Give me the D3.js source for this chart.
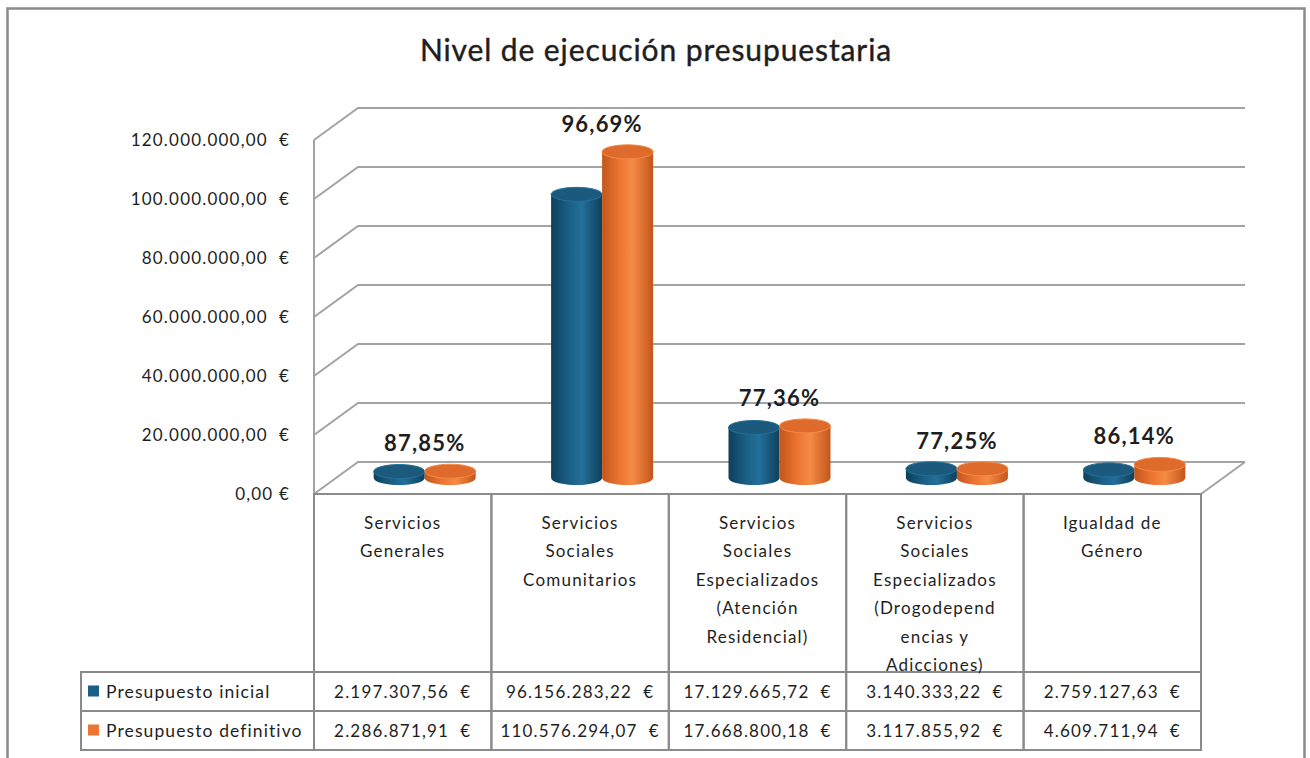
<!DOCTYPE html>
<html>
<head>
<meta charset="utf-8">
<script src="https://cdn.jsdelivr.net/npm/d3@7"></script>
<style>
  body { margin: 0; background: #fff; }
  svg text { font-family: Lato, "Open Sans", sans-serif; fill: #1e1e1e; }
</style>
</head>
<body>
<svg id="chart" width="1310" height="758"></svg>
<script>
// data
const categories = ["Servicios Generales", "Servicios Sociales Comunitarios",
    "Servicios Sociales Especializados (Atención Residencial)",
    "Servicios Sociales Especializados (Drogodependencias y Adicciones)",
    "Igualdad de Género"];
const categoryLines = [
    ["Servicios", "Generales"],
    ["Servicios", "Sociales", "Comunitarios"],
    ["Servicios", "Sociales", "Especializados", "(Atención", "Residencial)"],
    ["Servicios", "Sociales", "Especializados", "(Drogodepend", "encias y", "Adicciones)"],
    ["Igualdad de", "Género"]
];
const seriesNames = ["Presupuesto inicial", "Presupuesto definitivo"];
const presupuestoInicial = [2197307.56, 96156283.22, 17129665.72, 3140333.22, 2759127.63];
const presupuestoDefinitivo = [2286871.91, 110576294.07, 17668800.18, 3117855.92, 4609711.94];
const ejecucion = ["87,85%", "96,69%", "77,36%", "77,25%", "86,14%"];
const yTicks = [0, 20000000, 40000000, 60000000, 80000000, 100000000, 120000000];

const colors = {
    "Presupuesto inicial": { light: "#23709a", mid: "#1a5f85", dark: "#0e3f5b", top: "#1b5a7c" },
    "Presupuesto definitivo": { light: "#f58b45", mid: "#ee7431", dark: "#c2561b", top: "#de6a2b" }
};

const es = d3.formatLocale({ decimal: ",", thousands: ".", grouping: [3], currency: ["", " €"] });
const fmtNum = es.format(",.2f");
function euros(v) { return fmtNum(v) + "\u00a0\u00a0€"; }

let svg = d3.select("#chart");

// layout
const plot = { left: 314, right: 1201, top: 140, bottom: 494 };
const depth = { dx: 44, dy: -32 };
const table = { left: 81, headBottom: 672, row1: 711, row2: 750 };

let x = d3.scaleBand().domain(categories).range([plot.left, plot.right]);
let y = d3.scaleLinear().domain([0, 120000000]).range([plot.bottom, plot.top]);
let xs = d3.scaleBand().domain(seriesNames).range([-51, 51]);

// outer frame
svg.append("rect")
    .attr("x", 7.5).attr("y", 8.5).attr("width", 1297).attr("height", 780)
    .attr("fill", "none").attr("stroke", "#8a8a8a").attr("stroke-width", 2.5);

svg.append("text")
    .attr("x", 656).attr("y", 61)
    .attr("text-anchor", "middle")
    .style("font-size", "30px")
    .style("letter-spacing", "0.9px")
    .style("stroke", "#1e1e1e").style("stroke-width", "0.4px")
    .text("Nivel de ejecución presupuestaria");

// walls and gridlines
let grid = svg.append("g").attr("stroke", "#a3a3a3").attr("stroke-width", 2).attr("fill", "none");

yTicks.forEach(function(t) {
    grid.append("path")
        .attr("d", "M" + plot.left + "," + y(t) +
                   "L" + (plot.left + depth.dx) + "," + (y(t) + depth.dy) +
                   "L" + (plot.right + depth.dx) + "," + (y(t) + depth.dy));
});
grid.append("line")
    .attr("x1", plot.left).attr("x2", plot.left)
    .attr("y1", y(120000000)).attr("y2", plot.bottom);
grid.append("line")
    .attr("x1", plot.right).attr("y1", plot.bottom)
    .attr("x2", plot.right + depth.dx).attr("y2", plot.bottom + depth.dy);

// y axis labels
svg.append("g").selectAll("text")
    .data(yTicks)
    .enter()
    .append("text")
    .attr("x", 290)
    .attr("y", function(d) { return y(d) + 6; })
    .attr("text-anchor", "end")
    .style("font-size", "17px")
    .style("letter-spacing", "1.2px")
    .text(function(d) { return d == 0 ? "0,00 €" : euros(d); });

// gradients for the cylinders
let defs = svg.append("defs");
seriesNames.forEach(function(s, i) {
    let g = defs.append("linearGradient").attr("id", "grad" + i);
    g.append("stop").attr("offset", "0%").attr("stop-color", colors[s].dark);
    g.append("stop").attr("offset", "35%").attr("stop-color", colors[s].mid);
    g.append("stop").attr("offset", "60%").attr("stop-color", colors[s].light);
    g.append("stop").attr("offset", "100%").attr("stop-color", colors[s].dark);
});

// bars as cylinders, standing in the middle of the floor depth
let bars = [];
categories.forEach(function(c, i) {
    bars.push({ cat: c, series: seriesNames[0], idx: 0, value: presupuestoInicial[i] });
    bars.push({ cat: c, series: seriesNames[1], idx: 1, value: presupuestoDefinitivo[i] });
});

const rx = 25.5, ry = 7;
function cx(d) { return x(d.cat) + x.bandwidth() / 2 + depth.dx / 2 + xs(d.series) + xs.bandwidth() / 2; }
function yMid(v) { return y(v) + depth.dy / 2; }

let cyl = svg.append("g").selectAll("g")
    .data(bars)
    .enter()
    .append("g");

cyl.append("path")
    .attr("fill", function(d) { return "url(#grad" + d.idx + ")"; })
    .attr("d", function(d) {
        let c = cx(d), b = yMid(0), t = yMid(d.value);
        return "M" + (c - rx) + "," + t + "L" + (c - rx) + "," + b +
               "A" + rx + "," + ry + " 0 0 0 " + (c + rx) + "," + b +
               "L" + (c + rx) + "," + t + "Z";
    });

cyl.append("ellipse")
    .attr("cx", cx)
    .attr("cy", function(d) { return yMid(d.value); })
    .attr("rx", rx).attr("ry", ry)
    .attr("fill", function(d) { return colors[d.series].top; })
    .attr("stroke", function(d) { return colors[d.series].light; })
    .attr("stroke-width", 1);

// execution labels
svg.append("g").selectAll("text")
    .data(categories)
    .enter()
    .append("text")
    .attr("x", function(c) { return x(c) + x.bandwidth() / 2 + depth.dx / 2; })
    .attr("y", function(c, i) {
        return yMid(Math.max(presupuestoInicial[i], presupuestoDefinitivo[i])) - ry - 13;
    })
    .attr("text-anchor", "middle")
    .style("font-size", "22px")
    .style("font-weight", "bold")
    .style("letter-spacing", "1.2px")
    .text(function(c, i) { return ejecucion[i]; });

// data table
let tbl = svg.append("g").attr("stroke", "#8a8a8a").attr("stroke-width", 2).attr("fill", "none");
x.domain().forEach(function(c) {
    tbl.append("rect")
        .attr("x", x(c)).attr("y", plot.bottom)
        .attr("width", x.bandwidth()).attr("height", table.row2 - plot.bottom);
});
tbl.append("rect")
    .attr("x", table.left).attr("y", table.headBottom)
    .attr("width", plot.right - table.left).attr("height", table.row2 - table.headBottom);
tbl.append("line")
    .attr("x1", table.left).attr("x2", plot.right)
    .attr("y1", table.row1).attr("y2", table.row1);
tbl.append("line")
    .attr("x1", table.left).attr("x2", plot.right)
    .attr("y1", table.headBottom).attr("y2", table.headBottom);

// category headers
let heads = svg.append("g").selectAll("text")
    .data(categories)
    .enter()
    .append("text")
    .attr("text-anchor", "middle")
    .style("font-size", "17px")
    .style("letter-spacing", "1.2px");
heads.selectAll("tspan")
    .data(function(c, i) { return categoryLines[i].map(function(l) { return { cat: c, line: l }; }); })
    .enter()
    .append("tspan")
    .attr("x", function(d) { return x(d.cat) + x.bandwidth() / 2; })
    .attr("y", function(d, j) { return 529 + j * 28.4; })
    .text(function(d) { return d.line; });

// legend rows and values
const rowMid = [(table.headBottom + table.row1) / 2, (table.row1 + table.row2) / 2];
[presupuestoInicial, presupuestoDefinitivo].forEach(function(vals, r) {
    svg.append("rect")
        .attr("x", 88).attr("y", rowMid[r] - 6)
        .attr("width", 11).attr("height", 11)
        .attr("fill", colors[seriesNames[r]].mid);
    svg.append("text")
        .attr("x", 106).attr("y", rowMid[r] + 6)
        .style("font-size", "17.5px")
        .style("letter-spacing", "1.1px")
        .text(seriesNames[r]);
    svg.append("g").selectAll("text")
        .data(vals)
        .enter()
        .append("text")
        .attr("x", function(v, i) { return x(categories[i]) + x.bandwidth() / 2; })
        .attr("y", rowMid[r] + 6)
        .attr("text-anchor", "middle")
        .style("font-size", "17px")
        .style("letter-spacing", "1.2px")
        .text(euros);
});
</script>
</body>
</html>
